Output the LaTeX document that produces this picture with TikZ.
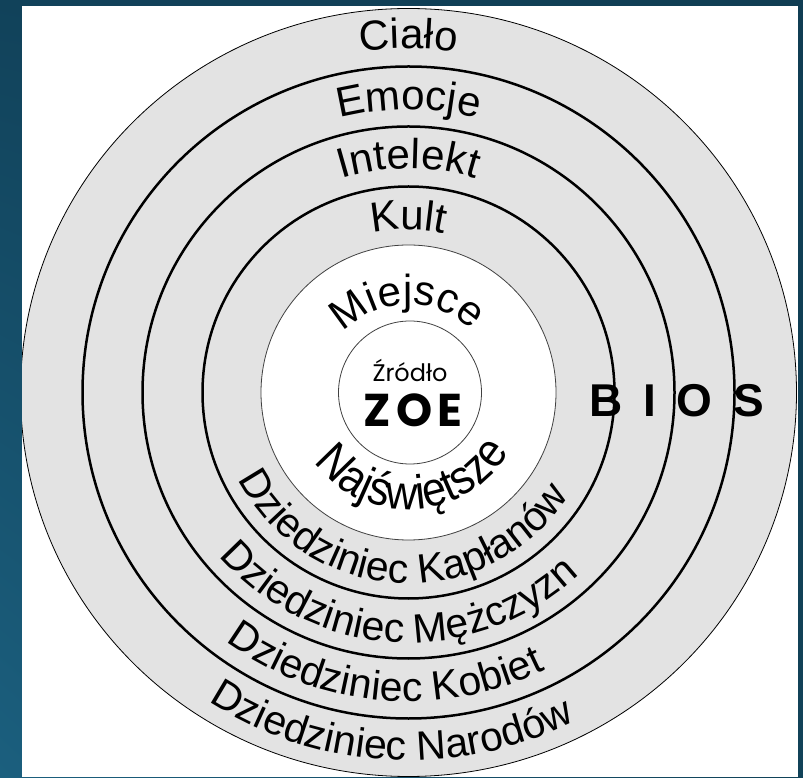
\documentclass[tikz,border=0pt]{standalone}
\usepackage{fontspec}
\setmainfont{Liberation Sans}
\usetikzlibrary{decorations.text, shadings, positioning}
\definecolor{bgtopl}{RGB}{17,66,90}
\definecolor{bgbotl}{RGB}{27,95,126}
\definecolor{bgtopr}{RGB}{16,61,83}
\definecolor{bgbotr}{RGB}{17,66,88}
\definecolor{ringgray}{RGB}{227,227,227}
\newfontfamily\tallfont[FakeStretch=0.9]{Liberation Sans}
\newcommand{\ringfont}{\fontsize{42}{42}\selectfont}
\newcommand{\courtfont}{\fontsize{41}{41}\selectfont}
\newcommand{\holyfont}{\tallfont\fontsize{48}{48}\selectfont}
\newfontfamily\spacedfont[LetterSpace=45]{Liberation Sans}
\newfontfamily\zoefont[LetterSpace=12]{Poppins}
\newfontfamily\sourcefont{Poppins}
\tikzstyle{ring} = [draw=black, line width=2.5pt]
\tikzstyle{thinring} = [draw=black!75, line width=0.8pt]
\tikzstyle{toptext} = [decorate, decoration={text along path, text align=center, text={|\ringfont|#1}}]
\tikzstyle{courttext} = [decorate, decoration={text along path, text align=center, text={|\courtfont|#1}}]
\tikzstyle{holytext} = [decorate, decoration={text along path, text align=center, text={|\holyfont|#1}}]

\begin{document}
\begin{tikzpicture}[x=1pt, y=1pt]
    % Background
    \shade[upper left=bgtopl, lower left=bgbotl, upper right=bgtopr, lower right=bgbotr] (0,0) rectangle (803,777);
    \useasboundingbox (0,0) rectangle (803,777);
    \fill[white] (22,0) rectangle (798,771);
    \coordinate (c) at (408.5,384.5);

    \begin{scope}[shift={(c)}]
    \clip (-386.5,-384.5) rectangle (389.5,386.5);
    % Rings
    \filldraw[fill=ringgray, thinring, draw=black] (0,0) ellipse [x radius=388, y radius=384];
    \draw[ring] (0,0) circle [radius=326];
    \draw[ring] (0,0) circle [radius=266];
    \draw[ring] (0,0) circle [radius=206];
    \filldraw[fill=white, thinring] (0,0) circle [radius=147.5];
    \filldraw[fill=white, thinring] (1.5,0) circle [radius=71.5];

    % Upper labels
    \path[toptext={Ciało}] (180:344) arc [start angle=180, end angle=0, radius=344];
    \path[toptext={Emocje}] (180:283) arc [start angle=180, end angle=0, radius=283];
    \path[toptext={Intelekt}] (180:224) arc [start angle=180, end angle=0, radius=224];
    \path[toptext={Kult}] (180:163) arc [start angle=180, end angle=0, radius=163];
    \path[toptext={Miejsce}] (181:88) arc [start angle=181, end angle=1, radius=88];

    % Lower labels
    \path[holytext={Najświętsze}] (183:117) arc [start angle=183, end angle=363, radius=117];
    \path[courttext={Dziedziniec Kapłanów}] (177:191) arc [start angle=177, end angle=357, radius=191];
    \path[courttext={Dziedziniec Mężczyzn}] (177:250) arc [start angle=177, end angle=357, radius=250];
    \path[courttext={Dziedziniec Kobiet}] (175:309) arc [start angle=175, end angle=355, radius=309];
    \path[courttext={Dziedziniec Narodów}] (177:368) arc [start angle=177, end angle=357, radius=368];
    \end{scope}

    % Centre
    \node (zrodlo) [anchor=base] at (410,395) {\sourcefont\fontsize{24}{24}\selectfont Źródło};
    \node (zoe) [anchor=base] at (413,350) {\zoefont\bfseries\fontsize{46}{46}\selectfont ZOE};
    \node (bios) [anchor=base west] at (586,360) {\spacedfont\bfseries\fontsize{46}{46}\selectfont BIOS};
\end{tikzpicture}
\end{document}
